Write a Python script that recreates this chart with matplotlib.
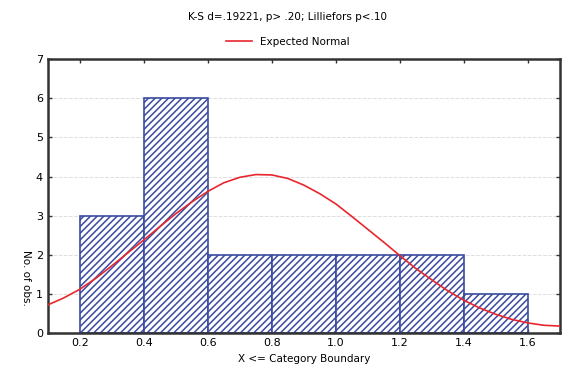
import matplotlib
matplotlib.use("Agg")
import matplotlib.pyplot as plt
from matplotlib.lines import Line2D

# Histograma (limites de categoria y numero de observaciones)
limites_izq = [0.2, 0.4, 0.6, 0.8, 1.0, 1.2, 1.4]
observaciones = [3, 6, 2, 2, 2, 2, 1]
ancho = 0.2

# Curva normal esperada
curva_x = [0.10, 0.15, 0.20, 0.25, 0.30, 0.35, 0.40, 0.45, 0.50, 0.55, 0.60,
           0.65, 0.70, 0.75, 0.80, 0.85, 0.90, 0.95, 1.00, 1.05, 1.10, 1.15,
           1.20, 1.25, 1.30, 1.35, 1.40, 1.45, 1.50, 1.55, 1.60, 1.65, 1.70]
curva_y = [0.72, 0.90, 1.12, 1.40, 1.72, 2.05, 2.38, 2.72, 3.05, 3.35, 3.62,
           3.84, 3.98, 4.05, 4.04, 3.95, 3.78, 3.56, 3.30, 2.98, 2.65, 2.32,
           1.98, 1.65, 1.36, 1.08, 0.84, 0.64, 0.48, 0.35, 0.26, 0.20, 0.18]

plt.rcParams['hatch.linewidth'] = 1.1
plt.rcParams['hatch.color'] = '#3a4a9e'

fig = plt.figure(figsize=(5.76, 3.86), dpi=100)
ax = fig.add_axes([0.083, 0.137, 0.889, 0.710])

ax.bar(limites_izq, observaciones, width=ancho, align='edge', color='white',
       edgecolor='#3a4aa0', linewidth=1.2, hatch='/////', zorder=2)
ax.plot(curva_x, curva_y, color='#e8262e', linewidth=1.2, zorder=3)

ax.set_xlim(0.1, 1.7)
ax.set_ylim(0, 7)
ax.set_xticks([0.2, 0.4, 0.6, 0.8, 1.0, 1.2, 1.4, 1.6])
ax.set_xticklabels(['0.2', '0.4', '0.6', '0.8', '1.0', '1.2', '1.4', '1.6'])
ax.set_yticks(range(0, 8))
ax.tick_params(direction='in', top=True, right=True, length=3, width=1,
               labelsize=8, color='#333333')
ax.grid(axis='y', color='#dddddd', linestyle='--', linewidth=0.7, zorder=0)
for lado in ax.spines.values():
    lado.set_linewidth(1.8)
    lado.set_color('#333333')

ax.set_xlabel("X <= Category Boundary", fontsize=7.5, labelpad=4)
fig.text(0.045, 0.28, "No. of obs.", rotation=270, fontsize=7.5,
         ha='center', va='center')

fig.text(0.50, 0.955, "K-S d=.19221, p> .20; Lilliefors p<.10", fontsize=7.5,
         ha='center', va='center')
leyenda = [Line2D([0], [0], color='#e8262e', linewidth=1.2)]
fig.legend(leyenda, ["Expected Normal"], loc='center', bbox_to_anchor=(0.5, 0.892),
           frameon=False, fontsize=7.5, handlelength=2.5, borderpad=0.1)

fig.savefig("out.png", dpi=100, facecolor='white')
